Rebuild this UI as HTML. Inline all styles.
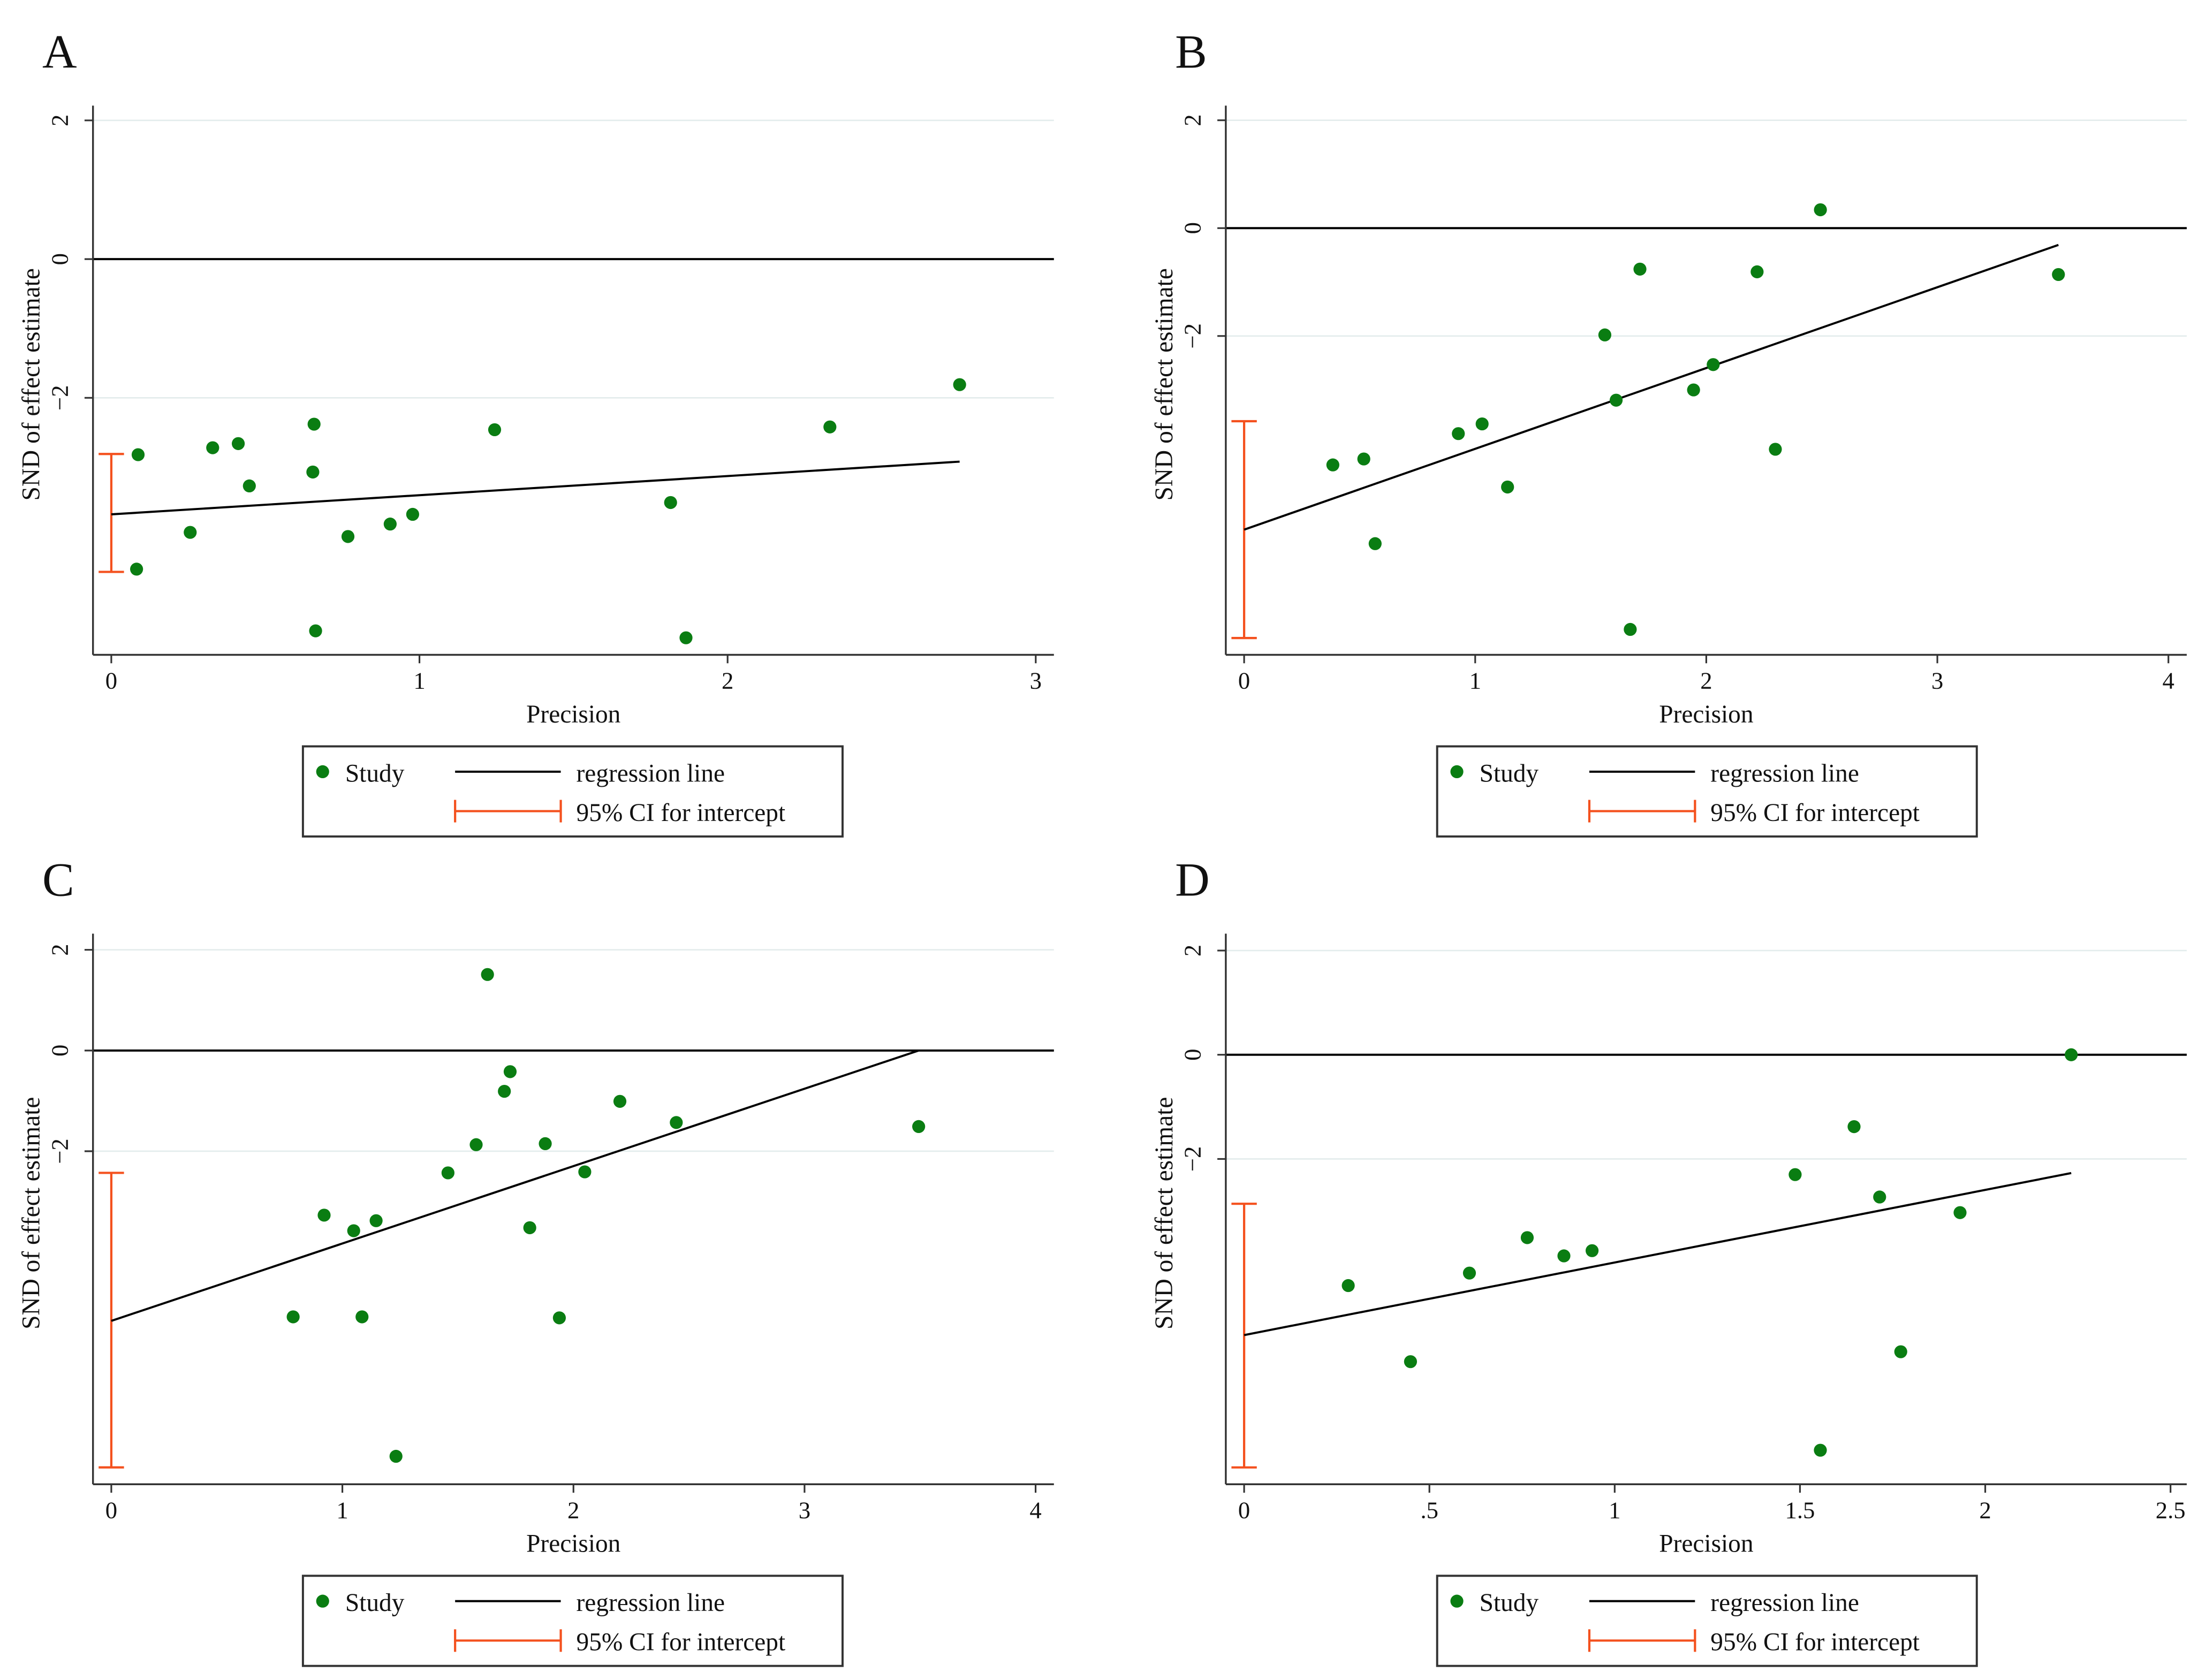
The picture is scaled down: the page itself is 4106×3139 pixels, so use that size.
<!DOCTYPE html>
<html><head><meta charset="utf-8"><style>
html,body{margin:0;padding:0;background:#fff}
svg{display:block}
text{font-family:"Liberation Serif",serif;fill:#111}
</style></head><body>
<svg id="fig" width="4106" height="3139" viewBox="0 0 1560 1193" preserveAspectRatio="none" xmlns="http://www.w3.org/2000/svg"></svg>
<script>
// Panel A data
const aX=[0.087,0.082,0.256,0.329,0.412,0.448,0.658,0.654,0.663,0.768,0.905,0.978,1.244,1.815,1.865,2.332,2.753];
const aY=[-2.82,-4.47,-3.94,-2.72,-2.66,-3.27,-2.38,-3.07,-5.36,-4.00,-3.82,-3.68,-2.46,-3.51,-5.46,-2.42,-1.81];
const aReg=[-3.68,0.276,2.753];
const aCI=[-2.81,-4.51];
const aXT=[0,1,2,3];const aXL=["0","1","2","3"];
// Panel B data
const bX=[0.384,0.518,0.567,0.927,1.030,1.140,1.561,1.610,1.671,1.713,1.945,2.030,2.220,2.299,2.494,3.524];
const bY=[-4.39,-4.28,-5.85,-3.81,-3.63,-4.80,-1.98,-3.19,-7.44,-0.76,-3.00,-2.53,-0.81,-4.10,0.34,-0.86];
const bReg=[-5.59,1.498,3.524];
const bCI=[-3.58,-7.60];
const bXT=[0,1,2,3,4];const bXL=["0","1","2","3","4"];
// Panel C data
const cX=[0.787,0.921,1.049,1.085,1.146,1.232,1.457,1.579,1.628,1.701,1.726,1.811,1.878,1.939,2.049,2.201,2.445,3.494];
const cY=[-5.29,-3.27,-3.58,-5.29,-3.38,-8.06,-2.43,-1.87,1.51,-0.81,-0.42,-3.52,-1.85,-5.31,-2.41,-1.01,-1.43,-1.51];
const cReg=[-5.37,1.537,3.494];
const cCI=[-2.43,-8.28];
const cXT=[0,1,2,3,4];const cXL=["0","1","2","3","4"];
// Panel D data
const dX=[0.281,0.449,0.608,0.764,0.863,0.939,1.487,1.555,1.646,1.715,1.772,1.932,2.232];
const dY=[-4.43,-5.89,-4.19,-3.51,-3.86,-3.76,-2.30,-7.59,-1.38,-2.73,-5.70,-3.03,0];
const dReg=[-5.38,1.393,2.232];
const dCI=[-2.86,-7.92];
const dXT=[0,0.5,1,1.5,2,2.5];const dXL=["0",".5","1","1.5","2","2.5"];
const yT=[2,0,-2];const yL=["2","0","\u22122"];

const NS="http://www.w3.org/2000/svg";
const svg=document.getElementById('fig');
function mk(tag,attrs,parent,txt){const e=document.createElementNS(NS,tag);for(const k in attrs)e.setAttribute(k,attrs[k]);if(txt!==undefined)e.textContent=txt;parent.appendChild(e);return e;}

function panel(cfg,xs,ys,reg,ci,xt,xl){
  const g=mk('g',{},svg);
  
  
  const L=cfg.left,R=cfg.right,T=cfg.top,B=cfg.bottom;
  const sx=v=>cfg.x0px+v*cfg.xppu;
  const sy=v=>cfg.y0px-v*cfg.yppu;
  let t=mk('text',{x:cfg.left-36,y:T-27,'font-size':34},g,cfg.letter);
  
  yT.forEach(v=>{if(v!==0){const gl=mk('line',{x1:L,x2:R,y1:sy(v),y2:sy(v),stroke:'#e3ecec','stroke-width':1},g);}});
  const zl=mk('line',{x1:L,x2:R,y1:sy(0),y2:sy(0),stroke:'#000','stroke-width':1.5},g);
  
  const ya=mk('line',{x1:L,x2:L,y1:T,y2:B,stroke:'#333','stroke-width':1.3},g);
  
  const xa=mk('line',{x1:L,x2:R,y1:B,y2:B,stroke:'#333','stroke-width':1.3},g);
  
  yT.forEach((v,i)=>{const y=sy(v);mk('line',{x1:L-6,x2:L,y1:y,y2:y,stroke:'#333','stroke-width':1.2},g);
    const tx=mk('text',{x:L-18,y:y,'font-size':17,'text-anchor':'middle',transform:`rotate(-90 ${L-18} ${y})`},g,yL[i]);
    });
  xt.forEach((v,i)=>{const x=sx(v);mk('line',{x1:x,x2:x,y1:B,y2:B+6,stroke:'#333','stroke-width':1.2},g);
    const tx=mk('text',{x:x,y:B+24,'font-size':17,'text-anchor':'middle'},g,xl[i]);
    });
  const yt=(T+B)/2+3;
  const ytt=mk('text',{x:L-38,y:yt,'font-size':18,'text-anchor':'middle',transform:`rotate(-90 ${L-38} ${yt})`},g,'SND of effect estimate');
  
  const xtt=mk('text',{x:(L+R)/2,y:B+48,'font-size':18,'text-anchor':'middle'},g,'Precision');
  
  const cx=sx(0);
  const cig=mk('g',{stroke:'#f4511e','stroke-width':1.6},g);
  
  mk('line',{x1:cx,x2:cx,y1:sy(ci[0]),y2:sy(ci[1])},cig);
  mk('line',{x1:cx-9,x2:cx+9,y1:sy(ci[0]),y2:sy(ci[0])},cig);
  mk('line',{x1:cx-9,x2:cx+9,y1:sy(ci[1]),y2:sy(ci[1])},cig);
  const rl=mk('line',{x1:sx(0),y1:sy(reg[0]),x2:sx(reg[2]),y2:sy(reg[0]+reg[1]*reg[2]),stroke:'#000','stroke-width':1.5},g);
  
  xs.forEach((v,i)=>{const c=mk('circle',{cx:sx(v),cy:sy(ys[i]),r:4.6,fill:'#0a7d12'},g);
    });
  const lx=cfg.legX,ly=B+65;
  const lg=mk('g',{},g);
  
  mk('rect',{x:lx,y:ly,width:383,height:64,fill:'#fff',stroke:'#333','stroke-width':1.5},lg);
  mk('circle',{cx:lx+14,cy:ly+18,r:4.6,fill:'#0a7d12'},lg);
  mk('text',{x:lx+30,y:ly+25,'font-size':18},lg,'Study');
  mk('line',{x1:lx+108,x2:lx+183,y1:ly+18,y2:ly+18,stroke:'#000','stroke-width':1.5},lg);
  mk('text',{x:lx+194,y:ly+25,'font-size':18},lg,'regression line');
  mk('line',{x1:lx+108,x2:lx+183,y1:ly+46,y2:ly+46,stroke:'#f4511e','stroke-width':1.6},lg);
  mk('line',{x1:lx+108,x2:lx+108,y1:ly+38,y2:ly+54,stroke:'#f4511e','stroke-width':1.6},lg);
  mk('line',{x1:lx+183,x2:lx+183,y1:ly+38,y2:ly+54,stroke:'#f4511e','stroke-width':1.6},lg);
  mk('text',{x:lx+194,y:ly+53,'font-size':18},lg,'95% CI for intercept');
}
panel({letter:'A',left:66,right:748,top:75,bottom:465,x0px:79,xppu:218.7,y0px:184,yppu:49.25,legX:215},aX,aY,aReg,aCI,aXT,aXL);
panel({letter:'B',left:870,right:1552,top:75,bottom:465,x0px:883,xppu:164,y0px:162,yppu:38.3,legX:1020},bX,bY,bReg,bCI,bXT,bXL);
panel({letter:'C',left:66,right:748,top:663,bottom:1054,x0px:79,xppu:164,y0px:746,yppu:35.75,legX:215},cX,cY,cReg,cCI,cXT,cXL);
panel({letter:'D',left:870,right:1552,top:663,bottom:1054,x0px:883,xppu:263,y0px:749,yppu:37,legX:1020},dX,dY,dReg,dCI,dXT,dXL);
</script>
</body></html>
